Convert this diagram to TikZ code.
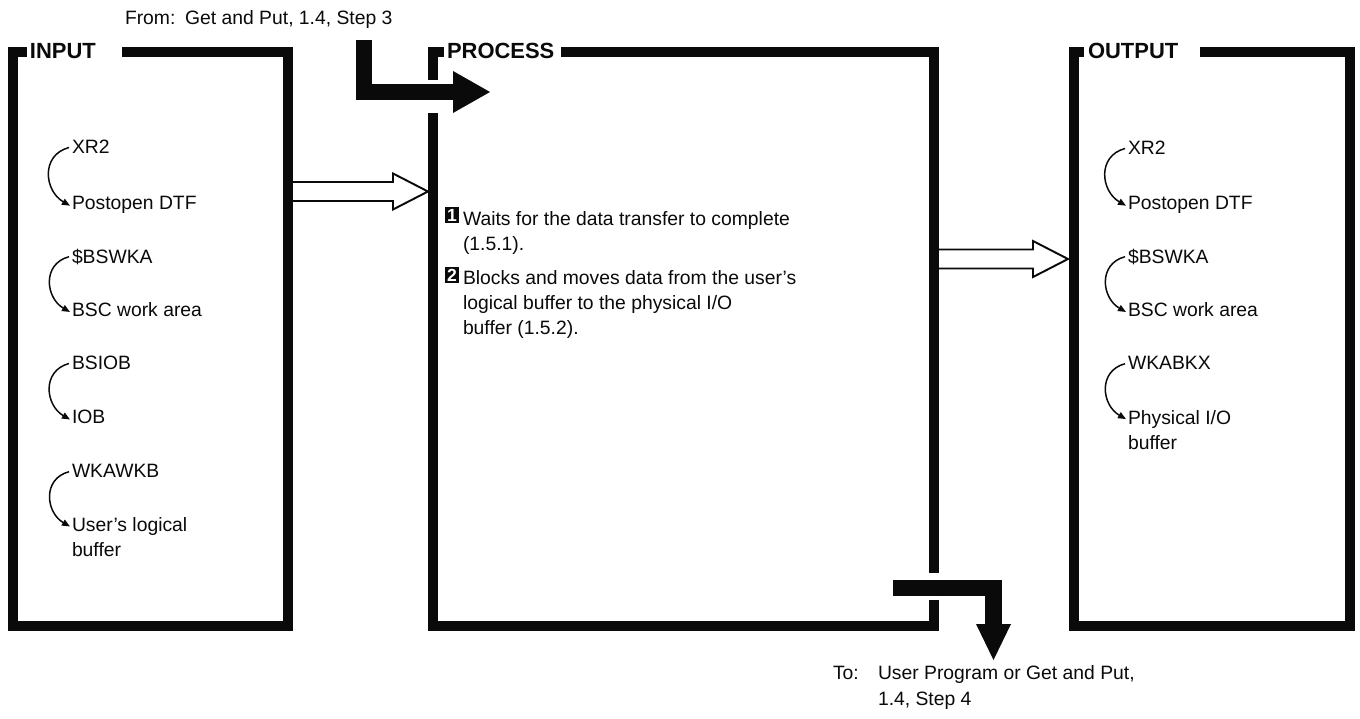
\documentclass[tikz,border=0pt]{standalone}
\usepackage{fontspec}
\setmainfont{Liberation Sans}
\usetikzlibrary{arrows.meta,calc}
\definecolor{FlowInk}{gray}{0.04}
\definecolor{FlowPaper}{gray}{1.0}
\tikzset{
    flow/diagram/.style={
        x=0.02cm, y=0.02cm,
        font=\fontsize{11pt}{14.5pt}\selectfont,
        draw=FlowInk,
        text=FlowInk,
        line cap=butt,
        line join=miter,
        every node/.style={inner sep=0pt, outer sep=0pt}
    },
    flow/frame/.style={draw=FlowInk, line width=5.6pt},
    flow/title/.style={
        font=\fontsize{12.5pt}{14pt}\selectfont\bfseries, anchor=west
    },
    flow/bold/.style={draw=FlowInk, line width=9.4pt},
    flow/head/.style={fill=FlowInk, draw=none},
    flow/hollow/.style={draw=FlowInk, line width=1.1pt},
    flow/link/.style={
        draw=FlowInk, line width=0.85pt, looseness=1.3,
        -{Triangle[length=1.6mm, width=1.3mm]}
    },
    flow/entry/.style={anchor=base west, align=left},
    flow/badge/.style={
        fill=FlowInk, text=white, inner sep=0pt,
        font=\fontsize{10pt}{11pt}\selectfont\bfseries,
        minimum width=7.8pt, minimum height=9.4pt
    }
}

\begin{document}
\begin{tikzpicture}[flow/diagram]
    \fill[FlowPaper] (0,0) rectangle (1360,-719);
    \useasboundingbox (0,0) rectangle (1360,-719);
    % panel frames, the titles sit in a gap of the top edge
    \draw[flow/frame] (122,-52) -- (288,-52) -- (288,-626)
                      -- (13,-626) -- (13,-52) -- (27,-52);
    \draw[flow/frame] (561,-52) -- (934,-52) -- (934,-573);
    \draw[flow/frame] (934,-600) -- (934,-626) -- (433,-626) -- (433,-113);
    \draw[flow/frame] (433,-80) -- (433,-52) -- (444,-52);
    \draw[flow/frame] (1200,-52) -- (1350,-52) -- (1350,-626)
                      -- (1074,-626) -- (1074,-52) -- (1084,-52);
    \node[flow/title] (input-title) at (30,-51) {INPUT};
    \node[flow/title] (process-title) at (447,-51) {PROCESS};
    \node[flow/title] (output-title) at (1088,-51) {OUTPUT};

    % entry and exit of the routine
    \node[flow/entry] (from-note) at (125,-25) {From:\enspace Get and Put, 1.4, Step 3};
    \coordinate (from-stub) at (364,-40);
    \coordinate (process-entry) at (490,-92);
    \draw[flow/bold] (from-stub) |- ($(process-entry)+(-36,0)$);
    \fill[flow/head] ($(process-entry)+(-37,21)$) -- (process-entry)
                     -- ($(process-entry)+(-37,-21)$) -- cycle;
    \coordinate (process-exit) at (893,-588);
    \coordinate (to-tip) at (993.5,-660);
    \draw[flow/bold] (process-exit) -| ($(to-tip)+(0,35)$);
    \fill[flow/head] ($(to-tip)+(-17.5,36)$) -- (to-tip)
                     -- ($(to-tip)+(17.5,36)$) -- cycle;
    \node[flow/entry] (to-label) at (833,-679) {To:};
    \node[flow/entry] (to-note) at (878,-705) {User Program or Get and Put,\\1.4, Step 4};

    % hollow arrows between the panels
    \coordinate (input-port) at (293,-191.5);
    \coordinate (process-in) at (428,-191.5);
    \coordinate (process-port) at (939,-259);
    \coordinate (output-in) at (1068,-259);
    \draw[flow/hollow] ($(input-port)+(0,9.5)$) -- ($(process-in)+(-35,9.5)$)
        -- ($(process-in)+(-35,18)$) -- (process-in) -- ($(process-in)+(-35,-18)$)
        -- ($(process-in)+(-35,-9.5)$) -- ($(input-port)+(0,-9.5)$);
    \draw[flow/hollow] ($(process-port)+(0,9.5)$) -- ($(output-in)+(-35,9.5)$)
        -- ($(output-in)+(-35,18)$) -- (output-in) -- ($(output-in)+(-35,-18)$)
        -- ($(output-in)+(-35,-9.5)$) -- ($(process-port)+(0,-9.5)$);

    % input areas
    \node[flow/entry] (in-xr2) at (72,-154) {XR2};
    \node[flow/entry] (in-dtf) at (72,-210) {Postopen DTF};
    \node[flow/entry] (in-bswka) at (72,-264) {\$BSWKA};
    \node[flow/entry] (in-bsc) at (72,-317) {BSC work area};
    \node[flow/entry] (in-bsiob) at (72,-370) {BSIOB};
    \node[flow/entry] (in-iob) at (72,-424) {IOB};
    \node[flow/entry] (in-wkawkb) at (72,-478) {WKAWKB};
    \node[flow/entry] (in-logical) at (72,-557) {User's logical\\buffer};
    \draw[flow/link] ($(in-xr2.north west)+(-3,-7)$) to[out=195, in=150] ($(in-dtf.north west)+(-2,-9)$);
    \draw[flow/link] ($(in-bswka.north west)+(-3,-7)$) to[out=195, in=150] ($(in-bsc.north west)+(-2,-9)$);
    \draw[flow/link] ($(in-bsiob.north west)+(-3,-7)$) to[out=195, in=150] ($(in-iob.north west)+(-2,-9)$);
    \draw[flow/link] ($(in-wkawkb.north west)+(-3,-7)$) to[out=195, in=150] ($(in-logical.north west)+(-2,-9)$);

    % process steps
    \node[flow/badge] (step-1) at (452,-215) {1};
    \node[flow/entry] (step-1-text) at (463,-250.6) {Waits for the data transfer to complete\\(1.5.1).};
    \node[flow/badge] (step-2) at (452,-275) {2};
    \node[flow/entry] (step-2-text) at (463,-335) {Blocks and moves data from the user's\\logical buffer to the physical I/O\\buffer (1.5.2).};

    % output areas
    \node[flow/entry] (out-xr2) at (1128,-155) {XR2};
    \node[flow/entry] (out-dtf) at (1128,-210) {Postopen DTF};
    \node[flow/entry] (out-bswka) at (1128,-264) {\$BSWKA};
    \node[flow/entry] (out-bsc) at (1128,-317) {BSC work area};
    \node[flow/entry] (out-wkabkx) at (1128,-370) {WKABKX};
    \node[flow/entry] (out-physical) at (1128,-449.6) {Physical I/O\\buffer};
    \draw[flow/link] ($(out-xr2.north west)+(-3,-7)$) to[out=195, in=150] ($(out-dtf.north west)+(-2,-9)$);
    \draw[flow/link] ($(out-bswka.north west)+(-3,-7)$) to[out=195, in=150] ($(out-bsc.north west)+(-2,-9)$);
    \draw[flow/link] ($(out-wkabkx.north west)+(-3,-7)$) to[out=195, in=150] ($(out-physical.north west)+(-2,-9)$);
\end{tikzpicture}
\end{document}
